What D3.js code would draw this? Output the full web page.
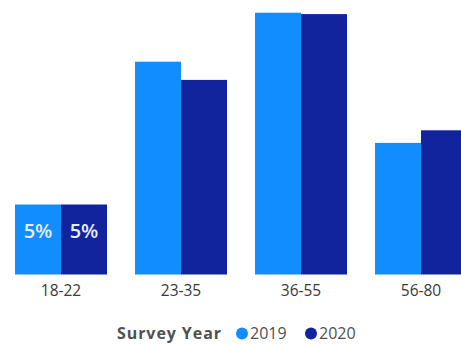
<!DOCTYPE html>
<html>
<head>
<meta charset="utf-8">
<script src="https://cdn.jsdelivr.net/npm/d3@7/dist/d3.min.js"></script>
<style>
  html, body { margin: 0; padding: 0; background: #fff; }
  svg { display: block; font-family: "Open Sans", "Noto Sans", sans-serif; }
</style>
</head>
<body>
<svg id="chart" width="461" height="345"></svg>
<script>
// Share of respondents by age group, per survey year (%)
const ageGroups = ["18-22", "23-35", "36-55", "56-80"];
const years = ["2019", "2020"];
const values2019 = [5, 15.2, 18.7, 9.4];
const values2020 = [5, 13.9, 18.6, 10.3];
// Only the first group carries data labels
const labelledGroups = ["18-22"];

const colors = { "2019": "#118DFF", "2020": "#12239E" };
const seriesValues = { "2019": values2019, "2020": values2020 };

const svg = d3.select("#chart");
const baseline = 274.5;

const x = d3.scaleBand()
  .domain(ageGroups)
  .range([15, 467])
  .paddingInner(28 / 120)
  .paddingOuter(0);

const xInner = d3.scaleBand()
  .domain(years)
  .range([0, x.bandwidth()])
  .padding(0);

const y = d3.scaleLinear()
  .domain([0, 19])
  .range([baseline, baseline - 266]);

const rows = ageGroups.map((g, i) => ({
  group: g,
  bars: years.map(yr => ({ year: yr, value: seriesValues[yr][i], group: g }))
}));

const groups = svg.append("g")
  .selectAll("g")
  .data(rows)
  .join("g")
  .attr("transform", d => `translate(${x(d.group)},0)`);

groups.selectAll("rect")
  .data(d => d.bars)
  .join("rect")
  .attr("x", d => xInner(d.year))
  .attr("width", xInner.bandwidth())
  .attr("y", d => y(d.value))
  .attr("height", d => baseline - y(d.value))
  .attr("fill", d => colors[d.year]);

groups.selectAll("text.value")
  .data(d => d.bars.filter(b => labelledGroups.includes(b.group)))
  .join("text")
  .attr("class", "value")
  .attr("x", d => xInner(d.year) + xInner.bandwidth() / 2)
  .attr("y", d => y(d.value) + 33)
  .attr("text-anchor", "middle")
  .attr("font-size", 20)
  .attr("font-weight", 600)
  .attr("fill", "#E6ECFF")
  .text(d => d3.format(".0f")(d.value) + "%");

// Category axis
const xAxis = svg.append("g")
  .attr("transform", `translate(0,${baseline})`)
  .call(d3.axisBottom(x).tickSize(0).tickPadding(10));
xAxis.select(".domain").remove();
xAxis.selectAll("text")
  .attr("font-size", 15.5)
  .attr("font-family", "\"Open Sans\", sans-serif")
  .attr("fill", "#3a3a3a");

// Legend
const legend = svg.append("g").attr("transform", "translate(0,339)");
legend.append("text")
  .attr("x", 117)
  .attr("y", 0)
  .attr("font-size", 16)
  .attr("font-weight", 700)
  .attr("textLength", 104)
  .attr("lengthAdjust", "spacing")
  .attr("fill", "#505050")
  .text("Survey Year");

const legendX = { "2019": 242, "2020": 311 };
years.forEach(yr => {
  legend.append("circle")
    .attr("cx", legendX[yr])
    .attr("cy", -5.5)
    .attr("r", 6)
    .attr("fill", colors[yr]);
  legend.append("text")
    .attr("x", legendX[yr] + 8)
    .attr("y", 0)
    .attr("font-size", 16)
    .attr("fill", "#505050")
    .text(yr);
});
</script>
</body>
</html>
